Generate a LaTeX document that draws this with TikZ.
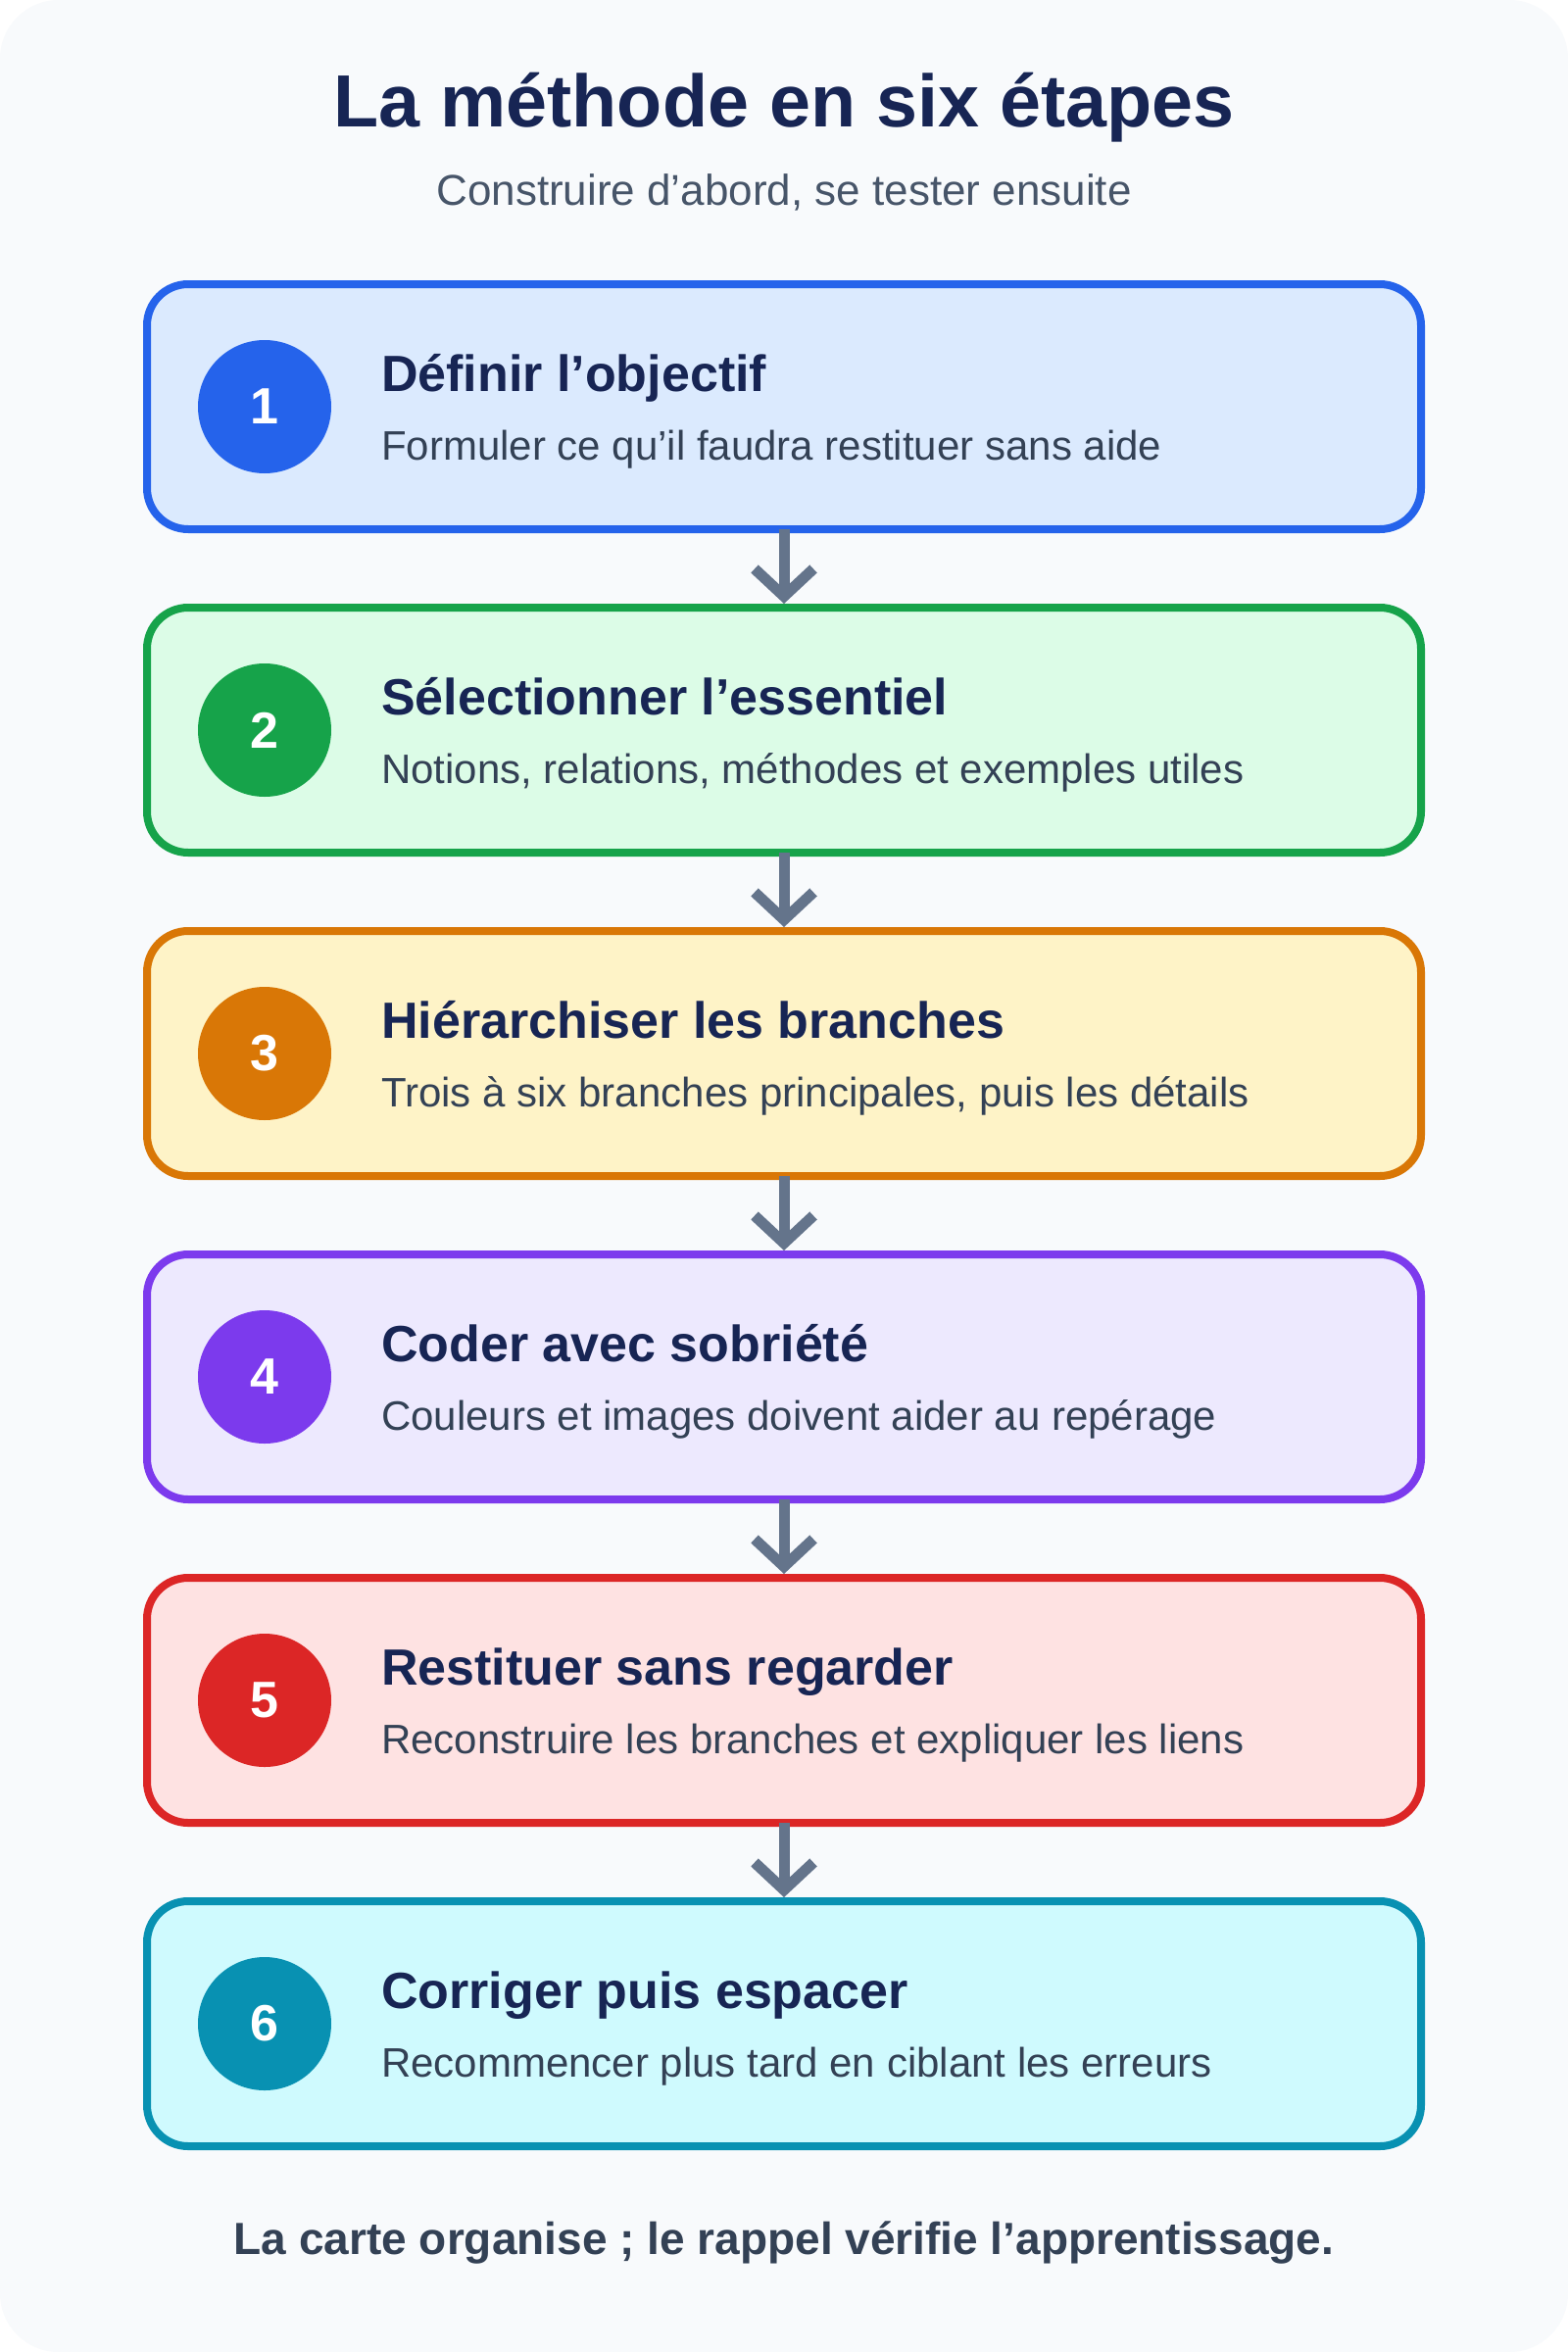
\documentclass[tikz,border=0pt]{standalone}
\usepackage{fontspec}
\setmainfont{Liberation Sans}
\usetikzlibrary{arrows.meta,calc}
\definecolor{pagebg}{HTML}{F8FAFC}
\definecolor{navy}{HTML}{172554}
\definecolor{slatesev}{HTML}{334155}
\definecolor{slatesix}{HTML}{475569}
\definecolor{slatefive}{HTML}{64748B}
\definecolor{cblue}{HTML}{2563EB}\definecolor{fblue}{HTML}{DBEAFE}
\definecolor{cgreen}{HTML}{16A34A}\definecolor{fgreen}{HTML}{DCFCE7}
\definecolor{camber}{HTML}{D97706}\definecolor{famber}{HTML}{FEF3C7}
\definecolor{cviolet}{HTML}{7C3AED}\definecolor{fviolet}{HTML}{EDE9FE}
\definecolor{cred}{HTML}{DC2626}\definecolor{fred}{HTML}{FEE2E2}
\definecolor{ccyan}{HTML}{0891B2}\definecolor{fcyan}{HTML}{CFFAFE}
\begin{document}
\begin{tikzpicture}[x=1pt,y=-1pt,
  stepbox/.style 2 args={draw=#1, fill=#2, line width=8pt, rounded corners=42pt,
    minimum width=1300pt, minimum height=250pt, inner sep=0pt, outer sep=0pt},
  numdot/.style={circle, fill=#1, minimum size=136pt, inner sep=0pt, outer sep=0pt,
    text=white, font=\fontsize{52}{52}\selectfont\bfseries},
  steptitle/.style={anchor=base west, inner sep=0pt, text=navy,
    font=\fontsize{52}{60}\selectfont\bfseries},
  stepdesc/.style={anchor=base west, inner sep=0pt, text=slatesev,
    font=\fontsize{42}{50}\selectfont},
  conn/.style={draw=slatefive, line width=11pt,
    -{Straight Barb[length=28pt, width=60pt]}, shorten >=4pt}
]
\useasboundingbox (0,0) rectangle (1600,2400);
\fill[white] (0,0) rectangle (1600,2400);
\fill[pagebg, rounded corners=60pt] (0,0) rectangle (1600,2400);

\node[anchor=base, inner sep=0pt, text=navy, font=\fontsize{75.5}{80}\selectfont\bfseries]
  (title) at (800,130) {La méthode en six étapes};
\node[anchor=base, inner sep=0pt, text=slatesix, font=\fontsize{44}{50}\selectfont]
  (subtitle) at (800,210) {Construire d’abord, se tester ensuite};

\node[stepbox={cblue}{fblue}]     (b1) at (800,415)  {};
\node[stepbox={cgreen}{fgreen}]   (b2) at (800,745)  {};
\node[stepbox={camber}{famber}]   (b3) at (800,1075) {};
\node[stepbox={cviolet}{fviolet}] (b4) at (800,1405) {};
\node[stepbox={cred}{fred}]       (b5) at (800,1735) {};
\node[stepbox={ccyan}{fcyan}]     (b6) at (800,2065) {};

\node[numdot=cblue]   (n1) at ($(b1.west)+(120,0)$) {1};
\node[numdot=cgreen]  (n2) at ($(b2.west)+(120,0)$) {2};
\node[numdot=camber]  (n3) at ($(b3.west)+(120,0)$) {3};
\node[numdot=cviolet] (n4) at ($(b4.west)+(120,0)$) {4};
\node[numdot=cred]    (n5) at ($(b5.west)+(120,0)$) {5};
\node[numdot=ccyan]   (n6) at ($(b6.west)+(120,0)$) {6};

\node[steptitle] (t1) at ($(b1.west)+(239,-16)$) {Définir l’objectif};
\node[stepdesc]  (d1) at ($(b1.west)+(239,54)$)  {Formuler ce qu’il faudra restituer sans aide};
\node[steptitle] (t2) at ($(b2.west)+(239,-16)$) {Sélectionner l’essentiel};
\node[stepdesc]  (d2) at ($(b2.west)+(239,54)$)  {Notions, relations, méthodes et exemples utiles};
\node[steptitle] (t3) at ($(b3.west)+(239,-16)$) {Hiérarchiser les branches};
\node[stepdesc]  (d3) at ($(b3.west)+(239,54)$)  {Trois à six branches principales, puis les détails};
\node[steptitle] (t4) at ($(b4.west)+(239,-16)$) {Coder avec sobriété};
\node[stepdesc]  (d4) at ($(b4.west)+(239,54)$)  {Couleurs et images doivent aider au repérage};
\node[steptitle] (t5) at ($(b5.west)+(239,-16)$) {Restituer sans regarder};
\node[stepdesc]  (d5) at ($(b5.west)+(239,54)$)  {Reconstruire les branches et expliquer les liens};
\node[steptitle] (t6) at ($(b6.west)+(239,-16)$) {Corriger puis espacer};
\node[stepdesc]  (d6) at ($(b6.west)+(239,54)$)  {Recommencer plus tard en ciblant les erreurs};

\draw[conn] (b1.south) -- (b2.north);
\draw[conn] (b2.south) -- (b3.north);
\draw[conn] (b3.south) -- (b4.north);
\draw[conn] (b4.south) -- (b5.north);
\draw[conn] (b5.south) -- (b6.north);

\node[anchor=base, inner sep=0pt, text=slatesev, font=\fontsize{46}{50}\selectfont\bfseries]
  (footer) at (800,2300) {La carte organise ; le rappel vérifie l’apprentissage.};
\end{tikzpicture}
\end{document}
